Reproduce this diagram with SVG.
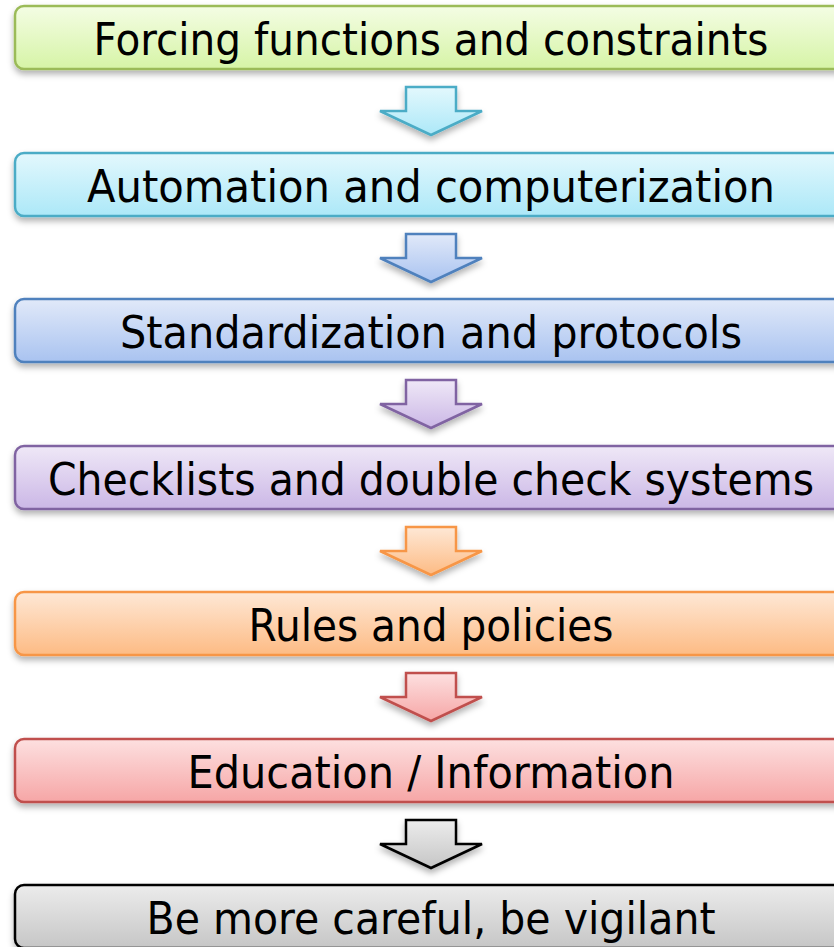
<svg xmlns="http://www.w3.org/2000/svg" width="834" height="947" viewBox="0 0 834 947">
  <defs>
    <filter id="shadow" x="-5%" y="-20%" width="110%" height="160%">
      <feDropShadow dx="0" dy="4" stdDeviation="3" flood-color="#000" flood-opacity="0.3"/>
    </filter>
    <linearGradient id="gGreen" x1="0" y1="0" x2="0" y2="1">
      <stop offset="0" stop-color="#f4fde4"/><stop offset="1" stop-color="#d6f4a6"/>
    </linearGradient>
    <linearGradient id="gCyan" x1="0" y1="0" x2="0" y2="1">
      <stop offset="0" stop-color="#e3f8fd"/><stop offset="1" stop-color="#ace8f8"/>
    </linearGradient>
    <linearGradient id="gBlue" x1="0" y1="0" x2="0" y2="1">
      <stop offset="0" stop-color="#e1e9f9"/><stop offset="1" stop-color="#a9c3f0"/>
    </linearGradient>
    <linearGradient id="gPurple" x1="0" y1="0" x2="0" y2="1">
      <stop offset="0" stop-color="#efe8f7"/><stop offset="1" stop-color="#cbb7e6"/>
    </linearGradient>
    <linearGradient id="gOrange" x1="0" y1="0" x2="0" y2="1">
      <stop offset="0" stop-color="#fee8d6"/><stop offset="1" stop-color="#fdbb84"/>
    </linearGradient>
    <linearGradient id="gRed" x1="0" y1="0" x2="0" y2="1">
      <stop offset="0" stop-color="#fde0e0"/><stop offset="1" stop-color="#f6a6a6"/>
    </linearGradient>
    <linearGradient id="gGray" x1="0" y1="0" x2="0" y2="1">
      <stop offset="0" stop-color="#ececec"/><stop offset="1" stop-color="#c6c6c6"/>
    </linearGradient>
    <!-- down arrow shape, origin at its top-left of the bounding box -->
    <path id="downArrow" d="M26 0 H76 V24 H102 L51 48 L0 24 H26 Z"/>
  </defs>
  <style>
    .box { stroke-width: 2.5; filter: url(#shadow); }
    .arrow { stroke-width: 2.5; filter: url(#shadow); stroke-linejoin: miter; }
    .label { font-family: "DejaVu Sans", "Liberation Sans", sans-serif; font-size: 44px; fill: #000; text-anchor: middle; }
  </style>

  <rect width="834" height="947" fill="#fff"/>

  <!-- connectors: block arrows between the levels -->
  <g id="connectors">
    <use href="#downArrow" x="380" y="87" class="arrow" fill="url(#gCyan)" stroke="#4bacc6"/>
    <use href="#downArrow" x="380" y="234" class="arrow" fill="url(#gBlue)" stroke="#4f81bd"/>
    <use href="#downArrow" x="380" y="380" class="arrow" fill="url(#gPurple)" stroke="#8064a2"/>
    <use href="#downArrow" x="380" y="527" class="arrow" fill="url(#gOrange)" stroke="#f79646"/>
    <use href="#downArrow" x="380" y="673" class="arrow" fill="url(#gRed)" stroke="#c0504d"/>
    <use href="#downArrow" x="380" y="820" class="arrow" fill="url(#gGray)" stroke="#000"/>
  </g>

  <g id="level1">
    <rect x="15" y="6" width="832" height="63" rx="9" class="box" fill="url(#gGreen)" stroke="#9bbb59"/>
    <text x="431" y="55" class="label" textLength="675" lengthAdjust="spacingAndGlyphs">Forcing functions and constraints</text>
  </g>
  <g id="level2">
    <rect x="15" y="153" width="832" height="63" rx="9" class="box" fill="url(#gCyan)" stroke="#4bacc6"/>
    <text x="431" y="202" class="label" textLength="688" lengthAdjust="spacingAndGlyphs">Automation and computerization</text>
  </g>
  <g id="level3">
    <rect x="15" y="299" width="832" height="63" rx="9" class="box" fill="url(#gBlue)" stroke="#4f81bd"/>
    <text x="431" y="348" class="label" textLength="622" lengthAdjust="spacingAndGlyphs">Standardization and protocols</text>
  </g>
  <g id="level4">
    <rect x="15" y="446" width="832" height="63" rx="9" class="box" fill="url(#gPurple)" stroke="#8064a2"/>
    <text x="431" y="495" class="label" textLength="766" lengthAdjust="spacingAndGlyphs">Checklists and double check systems</text>
  </g>
  <g id="level5">
    <rect x="15" y="592" width="832" height="63" rx="9" class="box" fill="url(#gOrange)" stroke="#f79646"/>
    <text x="431" y="641" class="label" textLength="365" lengthAdjust="spacingAndGlyphs">Rules and policies</text>
  </g>
  <g id="level6">
    <rect x="15" y="739" width="832" height="63" rx="9" class="box" fill="url(#gRed)" stroke="#c0504d"/>
    <text x="431" y="788" class="label" textLength="487" lengthAdjust="spacingAndGlyphs">Education / Information</text>
  </g>
  <g id="level7">
    <rect x="15" y="885" width="832" height="63" rx="9" class="box" fill="url(#gGray)" stroke="#000"/>
    <text x="431" y="934" class="label" textLength="569" lengthAdjust="spacingAndGlyphs">Be more careful, be vigilant</text>
  </g>
</svg>
